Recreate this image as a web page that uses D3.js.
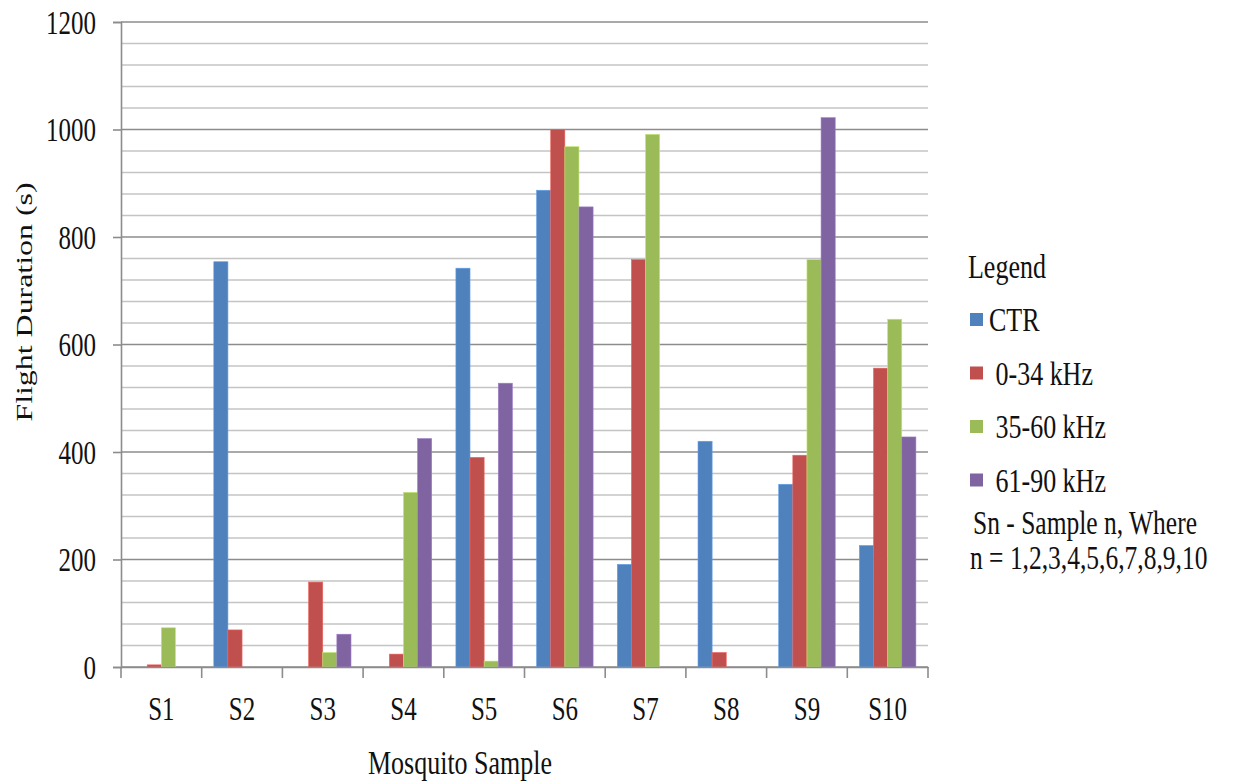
<!DOCTYPE html>
<html>
<head>
<meta charset="utf-8">
<script src="https://cdn.jsdelivr.net/npm/d3@7"></script>
<style>
  html, body { margin: 0; padding: 0; background: #fff; }
  svg { display: block; }
  text { font-family: "Liberation Serif", "Times New Roman", serif; fill: #111; }
</style>
</head>
<body>
<svg id="chart" width="1236" height="782"></svg>
<script>
const categories = ["S1","S2","S3","S4","S5","S6","S7","S8","S9","S10"];
const seriesNames = ["CTR", " 0-34 kHz", " 35-60 kHz", " 61-90 kHz"];
const seriesColors = ["#4F81BD", "#C0504D", "#9BBB59", "#8064A2"];
const ctr    = [0, 754, 0, 0, 742, 887, 191, 420, 340, 226];
const k0_34  = [4, 69, 158, 24, 390, 1000, 758, 27, 394, 556];
const k35_60 = [73, 0, 27, 325, 11, 968, 991, 0, 758, 647];
const k61_90 = [0, 0, 61, 425, 528, 856, 0, 0, 1022, 428];
const yTicks = [0, 200, 400, 600, 800, 1000, 1200];
const yGridStep = 40;
const legendNote = ["Sn - Sample n, Where", "n = 1,2,3,4,5,6,7,8,9,10"];

const seriesValues = [ctr, k0_34, k35_60, k61_90];

const SY = 1.33; // vertical stretch of the reference typography
const svg = d3.select("#chart");
const mLeft = 121, mRight = 928, mTop = 22, mBottom = 667;

function stext(parent, x, y, str, size, anchor) {
  return parent.append("text")
    .attr("transform", `translate(${x},${y}) scale(1,${SY})`)
    .attr("text-anchor", anchor || "start")
    .attr("dominant-baseline", "central")
    .style("font-size", size + "px")
    .style("white-space", "pre")
    .text(str);
}

const x0 = d3.scaleBand().domain(categories).range([mLeft, mRight]).padding(0);
const bw = x0.bandwidth();
const x1 = d3.scaleBand().domain(d3.range(seriesNames.length)).range([bw * 0.15, bw * 0.85]).padding(0);
const y = d3.scaleLinear().domain([0, 1200]).range([mBottom, mTop]);

// gridlines
const gridVals = d3.range(0, 1200 + 1, yGridStep);
svg.append("g").selectAll("line").data(gridVals).join("line")
  .attr("x1", mLeft).attr("x2", mRight)
  .attr("y1", d => y(d)).attr("y2", d => y(d))
  .attr("stroke", d => d % 200 === 0 ? "#8c8c8c" : "#c4c4c4")
  .attr("stroke-width", 1.6);

// bars
const barData = [];
categories.forEach((c, i) => {
  seriesValues.forEach((vals, s) => {
    barData.push({ c, s, v: vals[i] });
  });
});
svg.append("g").selectAll("rect").data(barData.filter(d => d.v > 0)).join("rect")
  .attr("x", d => x0(d.c) + x1(d.s))
  .attr("width", x1.bandwidth())
  .attr("y", d => y(d.v))
  .attr("height", d => y(0) - y(d.v))
  .attr("fill", d => seriesColors[d.s])
  .attr("stroke", d => d3.color(seriesColors[d.s]).brighter(0.6))
  .attr("stroke-width", 0.6);

// y axis
const yAxis = d3.axisLeft(y).tickValues(yTicks).tickSize(8).tickFormat(d3.format("d"));
const gy = svg.append("g").attr("transform", `translate(${mLeft},0)`).call(yAxis);
gy.select(".domain").attr("stroke", "#8c8c8c").attr("stroke-width", 1.6);
gy.selectAll(".tick line").attr("stroke", "#8c8c8c").attr("stroke-width", 1.6);
gy.selectAll(".tick text")
  .attr("x", null).attr("dy", null)
  .attr("transform", `translate(-25,0) scale(1,${SY})`)
  .attr("dominant-baseline", "central")
  .style("font-size", "25px").style("font-family", "Liberation Serif").attr("fill", "#111");

// x axis
const xAxis = d3.axisBottom(x0).tickSize(0);
const gx = svg.append("g").attr("transform", `translate(0,${mBottom})`).call(xAxis);
gx.select(".domain").attr("stroke", "#8c8c8c").attr("stroke-width", 1.6);
gx.selectAll(".tick text")
  .attr("y", null).attr("dy", null)
  .attr("transform", `translate(0,41.5) scale(1,${SY})`)
  .attr("dominant-baseline", "central")
  .style("font-size", "25px").style("font-family", "Liberation Serif").attr("fill", "#111");
// category boundary ticks
const bounds = categories.map(c => x0(c)).concat([mRight]);
gx.append("g").selectAll("line").data(bounds).join("line")
  .attr("x1", d => d).attr("x2", d => d)
  .attr("y1", 0).attr("y2", 11)
  .attr("stroke", "#8c8c8c").attr("stroke-width", 1.6);

// axis titles
stext(svg, 460, 763, "Mosquito Sample", 26, "middle");
svg.append("text")
  .attr("transform", `translate(24,302) rotate(-90) scale(${SY},1)`)
  .attr("text-anchor", "middle")
  .attr("dominant-baseline", "central")
  .style("font-size", "24px")
  .text("Flight Duration (s)");

// legend
stext(svg, 968, 267, "Legend", 26);
seriesNames.forEach((name, i) => {
  const cy = 320 + i * 53.5;
  svg.append("rect").attr("x", 970).attr("y", cy - 7).attr("width", 13).attr("height", 13)
    .attr("fill", seriesColors[i]);
  stext(svg, 989, cy, name, 26);
});
legendNote.forEach((t, i) => {
  stext(svg, i === 0 ? 973 : 970, 522 + i * 35, t, 25.5);
});
</script>
</body>
</html>
